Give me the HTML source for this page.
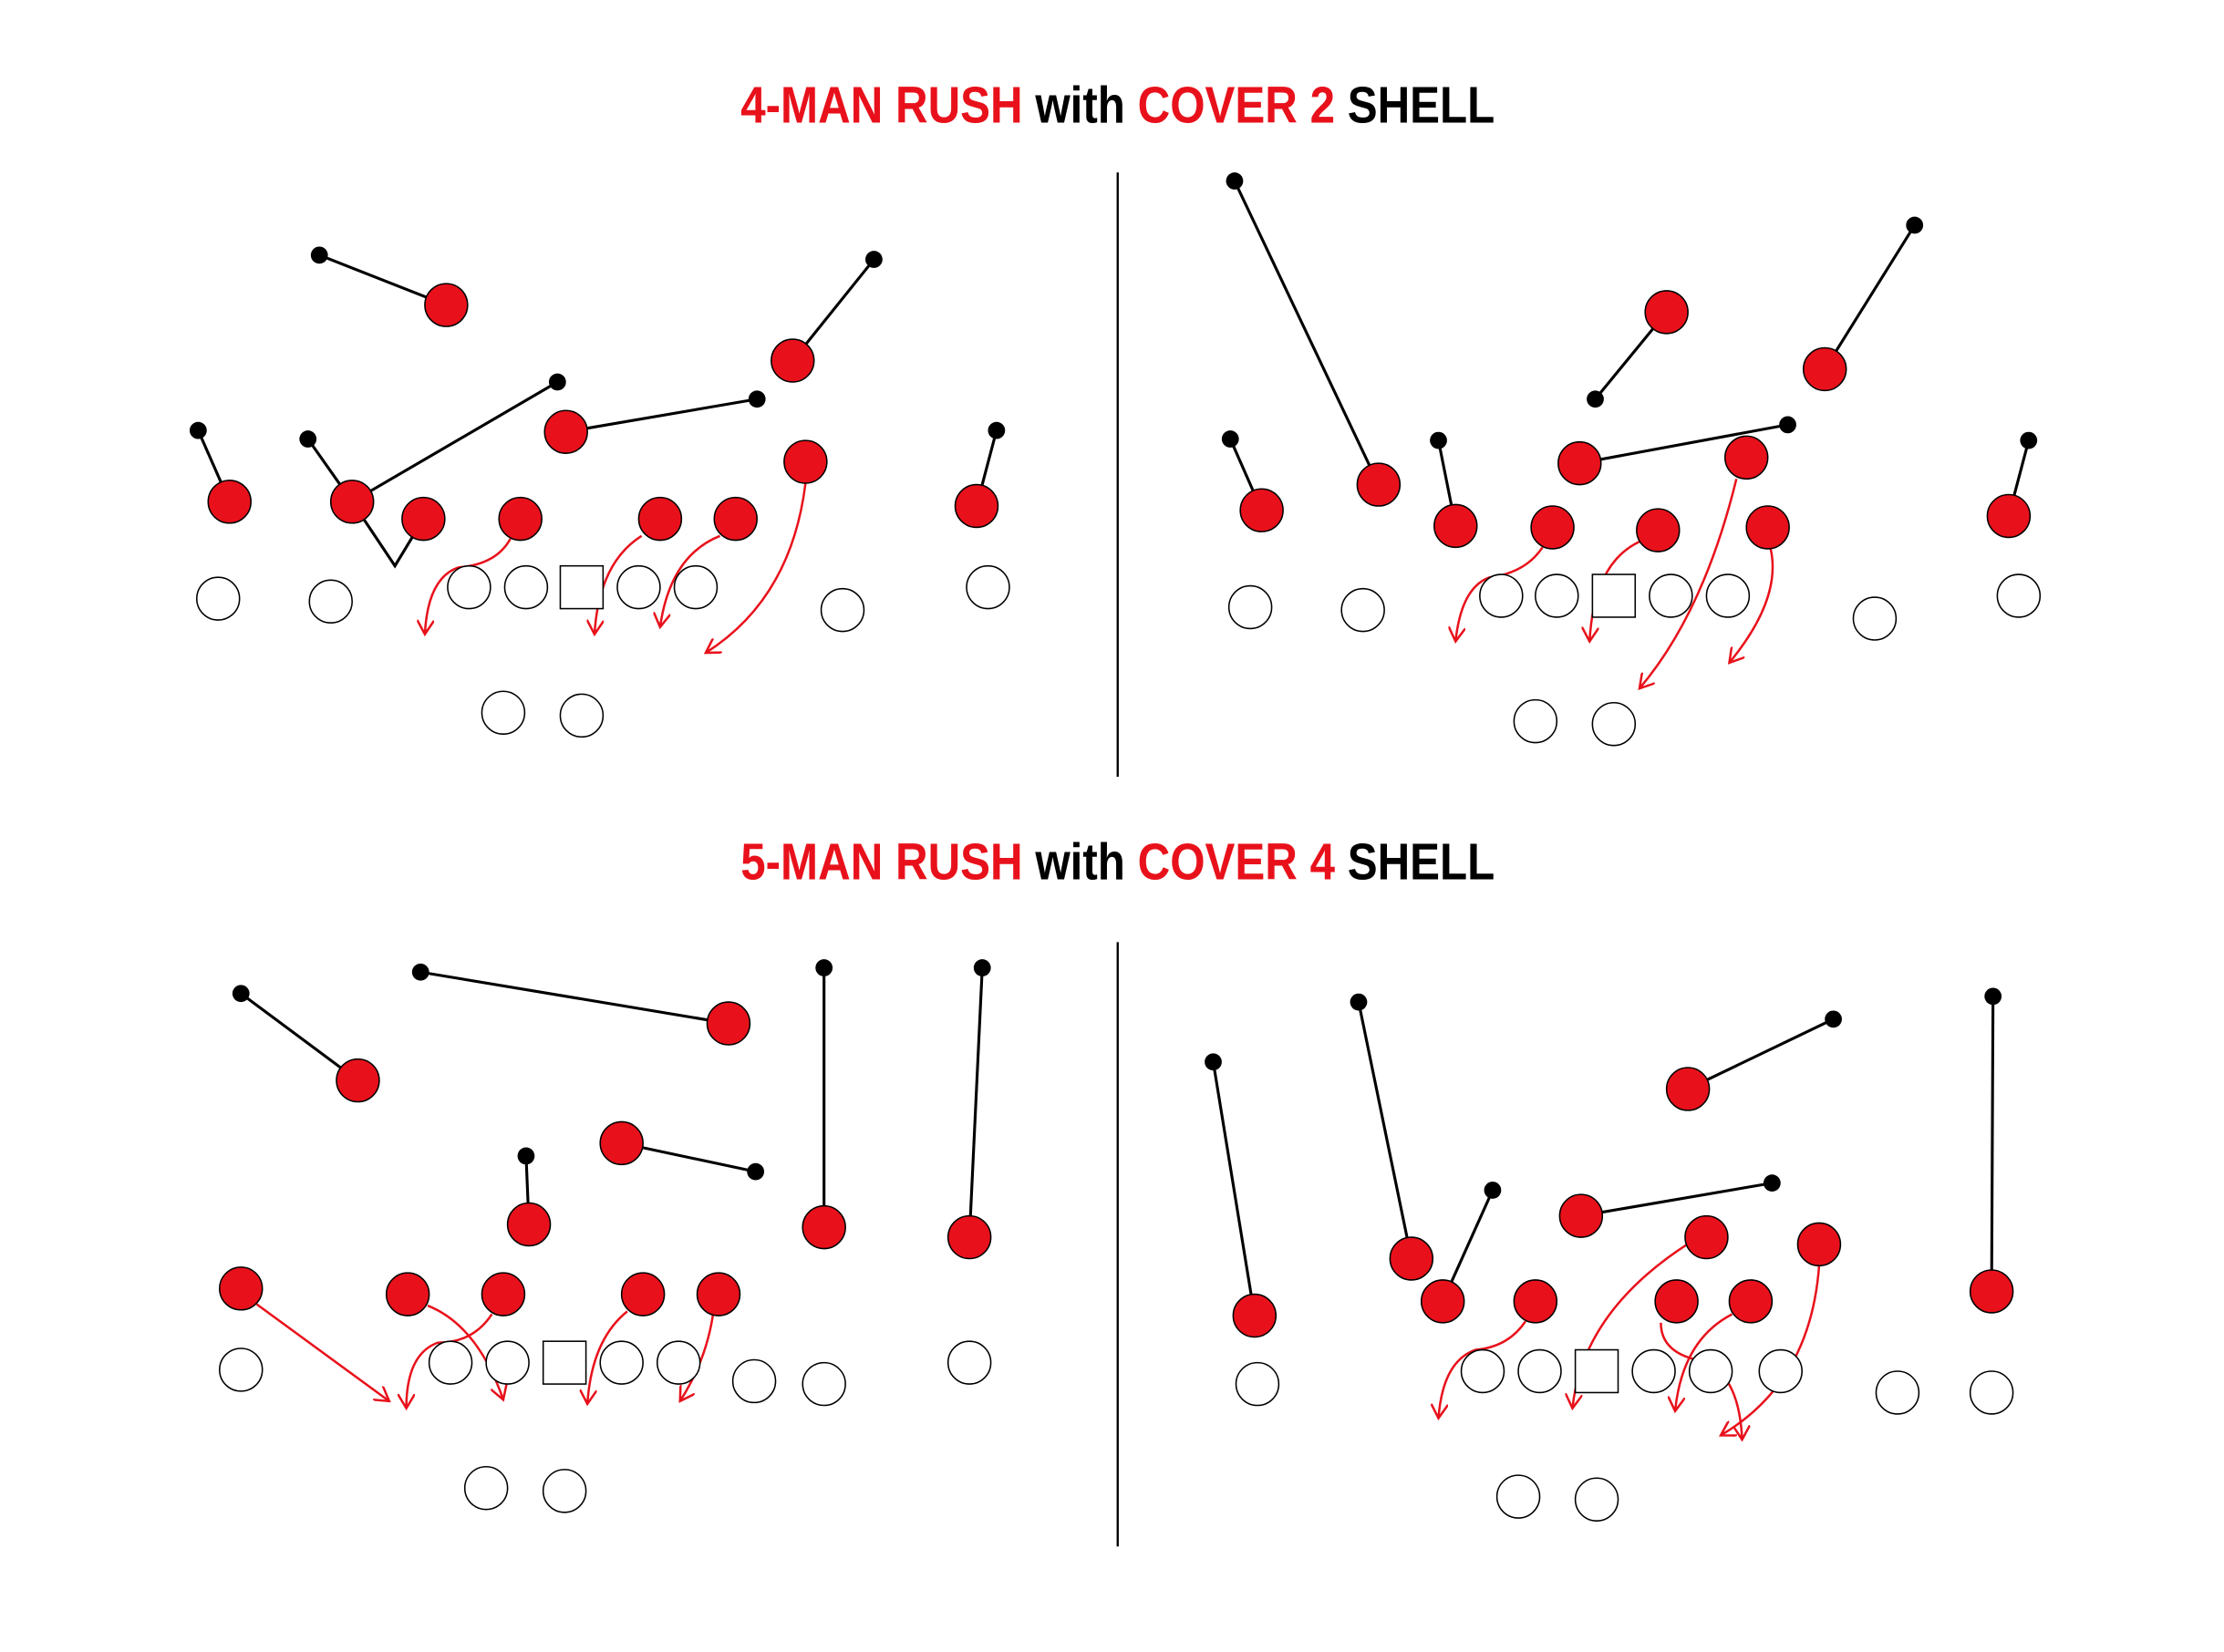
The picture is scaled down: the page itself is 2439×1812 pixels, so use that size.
<!DOCTYPE html>
<html><head><meta charset="utf-8"><style>
html,body{margin:0;padding:0;background:#fff;}
svg{display:block;}
.t{font-family:"Liberation Sans Narrow","Liberation Sans",sans-serif;font-weight:bold;font-size:36px;}
</style></head><body>
<svg width="2439" height="1812" viewBox="0 0 1560 1159" xmlns="http://www.w3.org/2000/svg">
<defs>
<marker id="ah" viewBox="0 0 12 12" refX="10" refY="6" markerWidth="12" markerHeight="12" markerUnits="userSpaceOnUse" orient="auto">
<path d="M0,0 L10,6 L0,12" fill="none" stroke="#e8111b" stroke-width="1.6"/>
</marker>
</defs>
<rect width="1560" height="1159" fill="#fff"/>
<text class="t" x="784" y="86" text-anchor="middle" textLength="529" lengthAdjust="spacingAndGlyphs"><tspan fill="#e8111b">4-MAN RUSH</tspan> <tspan fill="#000">with</tspan> <tspan fill="#e8111b">COVER 2</tspan> <tspan fill="#000">SHELL</tspan></text>
<text class="t" x="784" y="617" text-anchor="middle" textLength="529" lengthAdjust="spacingAndGlyphs"><tspan fill="#e8111b">5-MAN RUSH</tspan> <tspan fill="#000">with</tspan> <tspan fill="#e8111b">COVER 4</tspan> <tspan fill="#000">SHELL</tspan></text>
<g stroke="#000" stroke-width="1.5">
<line x1="784" y1="121" x2="784" y2="545"/>
<line x1="784" y1="661" x2="784" y2="1085"/>
</g>
<!-- black lines -->
<g stroke="#000" stroke-width="2" fill="none">
<line x1="224" y1="179" x2="313" y2="214"/>
<line x1="613" y1="182" x2="556" y2="253"/>
<line x1="391" y1="268" x2="247" y2="352"/>
<polyline points="216,308 247,352 277,397 297,364"/>
<line x1="531" y1="280" x2="397" y2="303"/>
<line x1="139" y1="302" x2="161" y2="352"/>
<line x1="699" y1="302" x2="685" y2="355"/>

<line x1="866" y1="127" x2="967" y2="340"/>
<line x1="1343" y1="158" x2="1280" y2="259"/>
<line x1="1169" y1="219" x2="1119" y2="280"/>
<line x1="1254" y1="298" x2="1108" y2="325"/>
<line x1="863" y1="308" x2="885" y2="358"/>
<line x1="1009" y1="309" x2="1021" y2="369"/>
<line x1="1423" y1="309" x2="1409" y2="362"/>

<line x1="169" y1="697" x2="251" y2="758"/>
<line x1="295" y1="682" x2="511" y2="718"/>
<line x1="578" y1="679" x2="578" y2="861"/>
<line x1="689" y1="679" x2="680" y2="868"/>
<line x1="369" y1="811" x2="371" y2="859"/>
<line x1="530" y1="822" x2="436" y2="802"/>

<line x1="851" y1="745" x2="880" y2="923"/>
<line x1="953" y1="703" x2="990" y2="883"/>
<line x1="1047" y1="835" x2="1012" y2="913"/>
<line x1="1286" y1="715" x2="1184" y2="764"/>
<line x1="1243" y1="830" x2="1109" y2="853"/>
<line x1="1398" y1="699" x2="1397" y2="906"/>
</g>
<!-- black dots -->
<g fill="#000">
<circle cx="224" cy="179" r="6"/><circle cx="613" cy="182" r="6"/><circle cx="391" cy="268" r="6"/><circle cx="216" cy="308" r="6"/><circle cx="531" cy="280" r="6"/><circle cx="139" cy="302" r="6"/><circle cx="699" cy="302" r="6"/>
<circle cx="866" cy="127" r="6"/><circle cx="1343" cy="158" r="6"/><circle cx="1119" cy="280" r="6"/><circle cx="1254" cy="298" r="6"/><circle cx="863" cy="308" r="6"/><circle cx="1009" cy="309" r="6"/><circle cx="1423" cy="309" r="6"/>
<circle cx="169" cy="697" r="6"/><circle cx="295" cy="682" r="6"/><circle cx="578" cy="679" r="6"/><circle cx="689" cy="679" r="6"/><circle cx="369" cy="811" r="6"/><circle cx="530" cy="822" r="6"/>
<circle cx="851" cy="745" r="6"/><circle cx="953" cy="703" r="6"/><circle cx="1047" cy="835" r="6"/><circle cx="1286" cy="715" r="6"/><circle cx="1243" cy="830" r="6"/><circle cx="1398" cy="699" r="6"/>
</g>
<!-- red arrows -->
<g stroke="#e8111b" stroke-width="1.6" fill="none" marker-end="url(#ah)">
<path d="M358,378 Q348,396 322,398 Q300,405 298,445"/>
<path d="M450,376 Q420,395 417,445"/>
<path d="M505,376 Q470,390 463,440"/>
<path d="M565,339 Q555,420 495,458"/>

<path d="M1082,384 Q1070,402 1045,405 Q1025,412 1021,450"/>
<path d="M1150,380 Q1118,395 1115,450"/>
<path d="M1218,336 Q1195,430 1150,483"/>
<path d="M1242,385 Q1250,420 1213,465"/>

<path d="M180,915 L273,983"/>
<path d="M300,916 Q335,930 353,982"/>
<path d="M345,922 Q332,942 307,942 Q285,950 285,988"/>
<path d="M440,920 Q415,940 412,985"/>
<path d="M500,923 Q495,955 477,983"/>

<path d="M1070,927 Q1058,945 1035,947 Q1012,955 1009,995"/>
<path d="M1185,872 Q1110,920 1103,988"/>
<path d="M1165,928 Q1165,950 1195,955 Q1220,965 1222,1010"/>
<path d="M1215,922 Q1180,940 1175,990"/>
<path d="M1276,888 Q1270,970 1207,1007"/>
</g>
<!-- red players -->
<g fill="#e8111b" stroke="#000" stroke-width="1">
<circle cx="313" cy="214" r="15"/><circle cx="556" cy="253" r="15"/><circle cx="397" cy="303" r="15"/><circle cx="565" cy="324" r="15"/><circle cx="161" cy="352" r="15"/><circle cx="247" cy="352" r="15"/><circle cx="297" cy="364" r="15"/><circle cx="365" cy="364" r="15"/><circle cx="463" cy="364" r="15"/><circle cx="516" cy="364" r="15"/><circle cx="685" cy="355" r="15"/>
<circle cx="1169" cy="219" r="15"/><circle cx="1280" cy="259" r="15"/><circle cx="967" cy="340" r="15"/><circle cx="1108" cy="325" r="15"/><circle cx="1225" cy="321" r="15"/><circle cx="885" cy="358" r="15"/><circle cx="1021" cy="369" r="15"/><circle cx="1089" cy="370" r="15"/><circle cx="1163" cy="372" r="15"/><circle cx="1240" cy="370" r="15"/><circle cx="1409" cy="362" r="15"/>
<circle cx="251" cy="758" r="15"/><circle cx="511" cy="718" r="15"/><circle cx="436" cy="802" r="15"/><circle cx="371" cy="859" r="15"/><circle cx="578" cy="861" r="15"/><circle cx="680" cy="868" r="15"/><circle cx="169" cy="904" r="15"/><circle cx="286" cy="908" r="15"/><circle cx="353" cy="908" r="15"/><circle cx="451" cy="908" r="15"/><circle cx="504" cy="908" r="15"/>
<circle cx="1184" cy="764" r="15"/><circle cx="1109" cy="853" r="15"/><circle cx="990" cy="883" r="15"/><circle cx="1197" cy="868" r="15"/><circle cx="1276" cy="873" r="15"/><circle cx="880" cy="923" r="15"/><circle cx="1012" cy="913" r="15"/><circle cx="1077" cy="913" r="15"/><circle cx="1176" cy="913" r="15"/><circle cx="1228" cy="913" r="15"/><circle cx="1397" cy="906" r="15"/>
</g>
<!-- offense -->
<g fill="#fff" stroke="#000" stroke-width="1">
<circle cx="153" cy="420" r="15"/><circle cx="232" cy="422" r="15"/><circle cx="329" cy="412" r="15"/><circle cx="369" cy="412" r="15"/><rect x="393" y="397" width="30" height="30"/><circle cx="448" cy="412" r="15"/><circle cx="488" cy="412" r="15"/><circle cx="591" cy="428" r="15"/><circle cx="693" cy="412" r="15"/><circle cx="353" cy="500" r="15"/><circle cx="408" cy="502" r="15"/>
<circle cx="877" cy="426" r="15"/><circle cx="956" cy="428" r="15"/><circle cx="1053" cy="418" r="15"/><circle cx="1092" cy="418" r="15"/><rect x="1117" y="403" width="30" height="30"/><circle cx="1172" cy="418" r="15"/><circle cx="1212" cy="418" r="15"/><circle cx="1315" cy="434" r="15"/><circle cx="1416" cy="418" r="15"/><circle cx="1077" cy="506" r="15"/><circle cx="1132" cy="508" r="15"/>
<circle cx="169" cy="961" r="15"/><circle cx="316" cy="956" r="15"/><circle cx="356" cy="956" r="15"/><rect x="381" y="941" width="30" height="30"/><circle cx="436" cy="956" r="15"/><circle cx="476" cy="956" r="15"/><circle cx="529" cy="969" r="15"/><circle cx="578" cy="971" r="15"/><circle cx="680" cy="956" r="15"/><circle cx="341" cy="1044" r="15"/><circle cx="396" cy="1046" r="15"/>
<circle cx="882" cy="971" r="15"/><circle cx="1040" cy="962" r="15"/><circle cx="1080" cy="962" r="15"/><rect x="1105" y="947" width="30" height="30"/><circle cx="1160" cy="962" r="15"/><circle cx="1200" cy="962" r="15"/><circle cx="1249" cy="962" r="15"/><circle cx="1331" cy="977" r="15"/><circle cx="1397" cy="977" r="15"/><circle cx="1065" cy="1050" r="15"/><circle cx="1120" cy="1052" r="15"/>
</g>
</svg>
</body></html>
